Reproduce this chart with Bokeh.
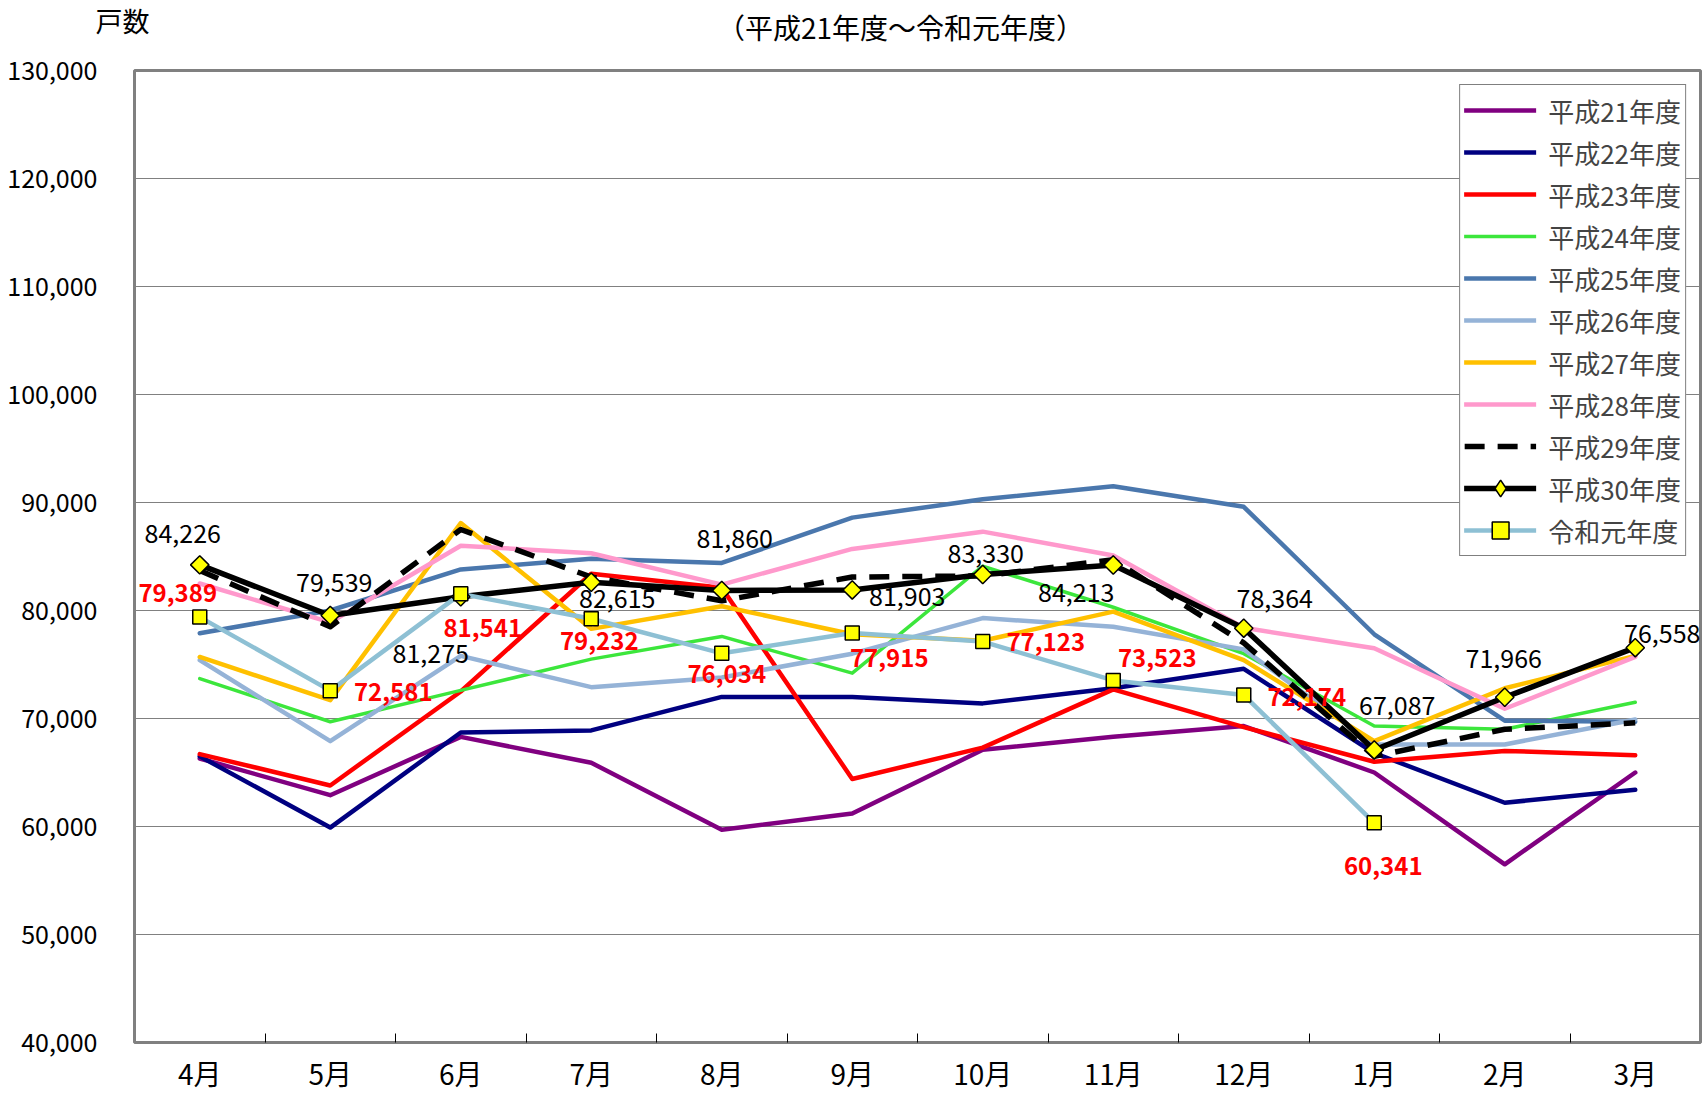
import numpy as np
from bokeh.plotting import figure
from bokeh.layouts import column
from bokeh.models import (Range1d, FixedTicker, NumeralTickFormatter, Legend,
                          LegendItem, Label, ColumnDataSource)
from bokeh.core.properties import value
from bokeh.embed import file_html
from bokeh.resources import INLINE

# ---------------- data ----------------
months = ["4月", "5月", "6月", "7月", "8月", "9月", "10月", "11月", "12月", "1月", "2月", "3月"]
series_names = ["平成21年度", "平成22年度", "平成23年度", "平成24年度", "平成25年度",
                "平成26年度", "平成27年度", "平成28年度", "平成29年度", "平成30年度", "令和元年度"]
h21 = [66300, 62900, 68300, 65900, 59700, 61200, 67100, 68300, 69300, 65000, 56500, 65000]
h22 = [66500, 59900, 68700, 68900, 72000, 72000, 71400, 72800, 74600, 66800, 62200, 63400]
h23 = [66700, 63800, 72500, 83400, 82100, 64400, 67300, 72700, 69200, 66000, 67000, 66600]
h24 = [73700, 69700, 72600, 75500, 77600, 74200, 84100, 80300, 76000, 69300, 69000, 71500]
h25 = [77900, 80000, 83800, 84800, 84400, 88600, 90300, 91500, 89600, 77800, 69800, 69700]
h26 = [75400, 67900, 75800, 72900, 73800, 76000, 79300, 78500, 76400, 67600, 67600, 69900]
h27 = [75700, 71700, 88100, 78300, 80400, 77800, 77200, 79900, 75400, 67900, 72800, 75800]
h28 = [82500, 78900, 86000, 85300, 82400, 85700, 87300, 85100, 78400, 76500, 70900, 75700]
h29 = [83700, 78500, 87500, 83100, 80900, 83100, 83200, 84700, 77000, 66500, 69000, 69600]
h30 = [84226, 79539, 81275, 82615, 81860, 81903, 83330, 84213, 78364, 67087, 71966, 76558]
r1 = [79389, 72581, 81541, 79232, 76034, 77915, 77123, 73523, 72174, 60341]
y_ticks = [40000, 50000, 60000, 70000, 80000, 90000, 100000, 110000, 120000, 130000]
unit_label = "戸数"
subtitle = "（平成21年度～令和元年度）"

# ---------------- styles ----------------
FONT = "Noto Sans CJK JP"
colors = ["#800080", "#000080", "#FF0000", "#3CE63C", "#4A77AD", "#95B3D7",
          "#FFC000", "#FF99CC", "#000000", "#000000", "#8EC0D4"]
widths = [4.5, 4.5, 4.5, 3.5, 4.5, 4.5, 4.5, 4.5, 5.5, 5.5, 4.5]
dashes = ["solid"] * 8 + ["20 13", "solid", "solid"]
# label offsets in pixels (dx, dy) relative to the data point
h30_dx = [-17, 4, -30, 26, 13, 55, 3, -37, 31, 23, -1, 27]
h30_dy = [-31, -33, 57, 16, -52, 7, -21, 28, -30, -44, -39, -14]
r1_dx = [-22, 63, 22, 8, 5, 37, 63, 44, 63, 9]
r1_dy = [-24, 1, 34, 22, 21, 25, 0, -22, 2, 43]

all_series = [h21, h22, h23, h24, h25, h26, h27, h28, h29, h30, r1]
n = len(months)
xs = np.arange(n) + 0.5

HEAD_H = 50
W, H = 1707, 1096
LEFT = 134

# ---------------- header (titles) ----------------
head = figure(width=W, height=HEAD_H, x_axis_type=None, y_axis_type=None,
              output_backend="svg", toolbar_location=None, min_border=0,
              x_range=Range1d(0, 1), y_range=Range1d(0, 1))
head.outline_line_color = None
head.background_fill_color = "white"
head.border_fill_color = "white"
head.add_layout(Label(x=42, y=HEAD_H - 20, x_units="screen", y_units="screen", text=unit_label,
                      text_font=FONT, text_font_size="27px", text_align="center",
                      text_baseline="middle", text_color="black"), "left")
head.add_layout(Label(x=900 - LEFT, y=HEAD_H - 26, x_units="screen", y_units="screen", text=subtitle,
                      text_font=FONT, text_font_size="28px", text_align="center",
                      text_baseline="middle", text_color="black"))

# ---------------- main chart ----------------
p = figure(width=W, height=H - HEAD_H,
           x_range=Range1d(0, n), y_range=Range1d(y_ticks[0], y_ticks[-1]),
           output_backend="svg", toolbar_location=None,
           min_border_left=LEFT, min_border_right=7, min_border_top=70 - HEAD_H,
           min_border_bottom=54)

p.outline_line_color = "#808080"
p.outline_line_width = 3
p.background_fill_color = "white"
p.border_fill_color = "white"

# axes
xa = p.xaxis[0]
xa.ticker = FixedTicker(ticks=list(xs), minor_ticks=list(range(1, n)))
xa.major_label_overrides = {float(x): m for x, m in zip(xs, months)}
xa.major_tick_line_color = None
xa.minor_tick_in = 9
xa.minor_tick_out = 0
xa.minor_tick_line_color = "black"
xa.axis_line_color = None
xa.major_label_text_font = FONT
xa.major_label_text_font_size = "28px"
xa.major_label_text_color = "black"
xa.major_label_standoff = 4

ya = p.yaxis[0]
ya.ticker = FixedTicker(ticks=y_ticks)
ya.formatter = NumeralTickFormatter(format="0,0")
ya.major_tick_line_color = None
ya.minor_tick_line_color = None
ya.axis_line_color = None
ya.major_label_text_font = FONT
ya.major_label_text_font_size = "25px"
ya.major_label_text_color = "black"
ya.major_label_standoff = 31

p.xgrid.grid_line_color = None
p.ygrid.grid_line_color = "#808080"
p.ygrid.grid_line_width = 1

# lines
line_rs = []
for vals, c, w, d in zip(all_series, colors, widths, dashes):
    r = p.line(xs[:len(vals)], vals, line_color=c, line_width=w, line_dash=d,
               line_join="round", line_cap="round" if d == "solid" else "butt")
    line_rs.append(r)

# markers
h30_m = p.scatter(xs, h30, marker="square", angle=np.pi / 4, size=13,
                  fill_color="#FFFF00", line_color="black", line_width=1.5)
r1_m = p.scatter(xs[:len(r1)], r1, marker="square", size=14,
                 fill_color="#FFFF00", line_color="black", line_width=1.5)
# legend-only proxy for the diamond marker (no visible point)
h30_proxy = p.scatter(x=np.array([np.nan]), y=np.array([np.nan]), marker="diamond", size=22,
                      fill_color="#FFFF00", line_color="black", line_width=1.5)

# data labels
src30 = ColumnDataSource(dict(x=xs, y=h30, t=[f"{v:,}" for v in h30], dx=h30_dx, dy=h30_dy))
p.text(x="x", y="y", text="t", x_offset="dx", y_offset="dy", source=src30,
       text_align="center", text_baseline="middle", text_font=value(FONT),
       text_font_size="25px", text_color="black")
srcr1 = ColumnDataSource(dict(x=xs[:len(r1)], y=r1, t=[f"{v:,}" for v in r1], dx=r1_dx, dy=r1_dy))
p.text(x="x", y="y", text="t", x_offset="dx", y_offset="dy", source=srcr1,
       text_align="center", text_baseline="middle", text_font=value(FONT),
       text_font_size="24px", text_font_style="bold", text_color="#FF0000")

# legend
items = []
for i, name in enumerate(series_names):
    rs = [line_rs[i]]
    if i == 9:
        rs.append(h30_proxy)
    if i == 10:
        rs.append(r1_m)
    items.append(LegendItem(label=name, renderers=rs))
legend = Legend(items=items, location="top_right", margin=14, padding=4, spacing=0,
                glyph_width=72, glyph_height=42, label_height=30, label_standoff=12,
                label_text_font=FONT, label_text_font_size="26px",
                border_line_color="black", border_line_width=1,
                background_fill_color="white", background_fill_alpha=1.0)
p.add_layout(legend)

layout = column(head, p, spacing=0)
open("out.html", "w").write(file_html(layout, INLINE))
